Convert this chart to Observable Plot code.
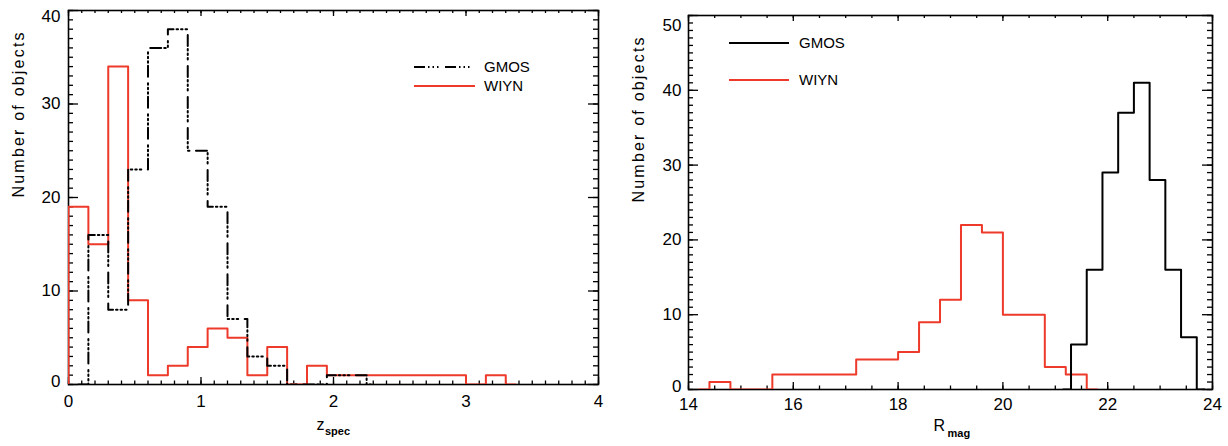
<!DOCTYPE html>
<html><head><meta charset="utf-8">
<script src="https://cdn.jsdelivr.net/npm/d3@7"></script>
<script src="https://cdn.jsdelivr.net/npm/@observablehq/plot@0.6"></script>
<style>
body{margin:0;background:#fff;}
#wrap{position:relative;width:1228px;height:446px;display:flex;}
.leg{position:absolute;font-family:"Liberation Sans",Arial,sans-serif;font-size:15px;line-height:16px;color:#000;}
.sw{position:absolute;}
</style></head><body><div id="wrap"></div>
<script>
// ---- Left panel: spectroscopic redshift histograms (bin width 0.15, plotted at bin centres) ----
const zWIYNCenters = [-0.075, 0.075, 0.225, 0.375, 0.525, 0.675, 0.825, 0.975, 1.125, 1.275, 1.425, 1.575, 1.725, 1.875, 2.025, 2.175, 2.325, 2.475, 2.625, 2.775, 2.925, 3.075, 3.225, 3.375];
const zWIYNCounts  = [0, 19, 15, 34, 9, 1, 2, 4, 6, 5, 1, 4, 0, 2, 1, 1, 1, 1, 1, 1, 1, 0, 1, 0];
const zGMOSCenters = [0.075, 0.225, 0.375, 0.525, 0.675, 0.825, 0.975, 1.125, 1.275, 1.425, 1.575, 1.725, 1.875, 2.025, 2.175, 2.325];
const zGMOSCounts  = [0, 16, 8, 23, 36, 38, 25, 19, 7, 3, 2, 0, 0, 1, 1, 0];

// ---- Right panel: R magnitude histograms ----
const rWIYNCenters = [14.2, 14.6, 15.0, 15.4, 15.8, 16.2, 16.6, 17.0, 17.4, 17.8, 18.2, 18.6, 19.0, 19.4, 19.8, 20.2, 20.6, 21.0, 21.4, 21.8];
const rWIYNCounts  = [0, 1, 0, 0, 2, 2, 2, 2, 4, 4, 5, 9, 12, 22, 21, 10, 10, 3, 2, 0];
const rGMOSCenters = [21.15, 21.45, 21.75, 22.05, 22.35, 22.65, 22.95, 23.25, 23.55, 23.85];
const rGMOSCounts  = [0, 6, 16, 29, 37, 41, 28, 16, 7, 0];

// ---- Axes ----
const zXTicks = [0, 1, 2, 3, 4];
const zYTicks = [0, 10, 20, 30, 40];
const rXTicks = [14, 16, 18, 20, 22, 24];
const rYTicks = [0, 10, 20, 30, 40, 50];
const seriesNames = ["GMOS", "WIYN"];
const yTitle = "Number of objects";

const RED = "#ee3a2a";
const DASH = "11,3,1.5,3,1.5,3,1.5,6.5";
const FONT = "'Liberation Sans', Arial, Helvetica, sans-serif";

function toRows(cs, vs) { return cs.map((x, i) => ({x, y: vs[i]})); }

function panel(o) {
  const innerW = o.width - o.mL - o.mR, innerH = o.height - o.mT - o.mB;
  const tk = {stroke: "black", strokeWidth: 1.3};
  const yMid = o.yMajor.slice(1, -1);
  return Plot.plot({
    width: o.width, height: o.height,
    marginLeft: o.mL, marginRight: o.mR, marginTop: o.mT, marginBottom: o.mB,
    x: {domain: o.xDomain, axis: null},
    y: {domain: o.yDomain, axis: null},
    style: {fontFamily: FONT, fontSize: "17px", background: "white", overflow: "visible", color: "black"},
    marks: [
      Plot.ruleX(o.xMinor, {...tk, insetTop: innerH - 3.5}),
      Plot.ruleX(o.xMajor, {...tk, insetTop: innerH - 7}),
      Plot.ruleX(o.xMinor, {...tk, insetBottom: innerH - 3}),
      Plot.ruleX(o.xMajor, {...tk, insetBottom: innerH - 6}),
      Plot.ruleY(o.yMinor, {...tk, insetRight: innerW - 5}),
      Plot.ruleY(o.yMajor, {...tk, insetRight: innerW - 10}),
      Plot.ruleY(o.yMinor, {...tk, insetLeft: innerW - 5}),
      Plot.ruleY(o.yMajor, {...tk, insetLeft: innerW - 10}),
      Plot.frame({stroke: "black", strokeWidth: 1.6}),
      Plot.text(o.xMajor, {x: d => d, text: d => String(d), frameAnchor: "bottom", dy: o.xLabDy, fontSize: 17}),
      Plot.text(yMid, {y: d => d, text: d => String(d), frameAnchor: "left", dx: o.yLabDx, textAnchor: "end", fontSize: 17}),
      Plot.text([o.yMajor[0]], {y: d => d, text: d => String(d), frameAnchor: "left", dx: o.yLabDx, dy: -3, textAnchor: "end", fontSize: 17}),
      Plot.text([o.yMajor[o.yMajor.length - 1]], {y: d => d, text: d => String(d), frameAnchor: "left", dx: o.yLabDx, dy: o.topDy, textAnchor: "end", fontSize: 17}),
      Plot.text([yTitle], {text: d => d, frameAnchor: "left", dx: o.yTitleDx, rotate: -90, fontSize: 16}),
      Plot.text([o.xTitle], {text: d => d, frameAnchor: "bottom", textAnchor: "start", dx: o.xtDx, dy: o.xtDy, fontSize: 16}),
      Plot.text([o.xSub], {text: d => d, frameAnchor: "bottom", textAnchor: "start", dx: o.xsDx, dy: o.xsDy, fontSize: 11, fontWeight: "bold"}),
      ...o.lines
    ]
  });
}

const wrap = document.getElementById("wrap");

const left = panel({
  width: 614, height: 446, mL: 68, mR: 16, mT: 10, mB: 62,
  xDomain: [0, 4], yDomain: [0, 40],
  xMajor: zXTicks, xMinor: d3.range(0, 4.0001, 0.1),
  yMajor: zYTicks, yMinor: d3.range(0, 40.0001, 1),
  xLabDy: 22, yLabDx: -8, topDy: 6, yTitleDx: -50,
  xTitle: "z", xtDx: -17, xtDy: 45, xSub: "spec", xsDx: -8.5, xsDy: 50,
  lines: [
    Plot.line(toRows(zWIYNCenters, zWIYNCounts), {x: "x", y: "y", curve: "step", stroke: RED, strokeWidth: 2, clip: true}),
    Plot.line(toRows(zGMOSCenters, zGMOSCounts), {x: "x", y: "y", curve: "step", stroke: "black", strokeWidth: 2, strokeDasharray: DASH, clip: true})
  ]
});

const right = panel({
  width: 614, height: 446, mL: 74, mR: 16, mT: 15, mB: 57,
  xDomain: [14, 24], yDomain: [0, 50],
  xMajor: rXTicks, xMinor: d3.range(14, 24.0001, 0.5),
  yMajor: rYTicks, yMinor: d3.range(0, 50.0001, 1),
  xLabDy: 20, yLabDx: -7, topDy: 10, yTitleDx: -50,
  xTitle: "R", xtDx: -17, xtDy: 41.5, xSub: "mag", xsDx: -3, xsDy: 47,
  lines: [
    Plot.line(toRows(rWIYNCenters, rWIYNCounts), {x: "x", y: "y", curve: "step", stroke: RED, strokeWidth: 2, clip: true}),
    Plot.line(toRows(rGMOSCenters, rGMOSCounts), {x: "x", y: "y", curve: "step", stroke: "black", strokeWidth: 2, clip: true})
  ]
});

wrap.appendChild(left);
wrap.appendChild(right);

for (const t of document.querySelectorAll("svg text")) {
  if (t.textContent === yTitle) t.style.letterSpacing = "2.2px";
}

// ---- Legends (HTML overlay) ----
function legendItem(x1, x2, y, color, dash, label, tx) {
  const s = document.createElementNS("http://www.w3.org/2000/svg", "svg");
  s.setAttribute("class", "sw");
  s.setAttribute("width", x2 - x1); s.setAttribute("height", 6);
  s.style.left = x1 + "px"; s.style.top = (y - 3) + "px";
  const l = document.createElementNS("http://www.w3.org/2000/svg", "line");
  l.setAttribute("x1", 0); l.setAttribute("x2", x2 - x1);
  l.setAttribute("y1", 3); l.setAttribute("y2", 3);
  l.setAttribute("stroke", color); l.setAttribute("stroke-width", 2);
  if (dash) l.setAttribute("stroke-dasharray", dash);
  s.appendChild(l);
  wrap.appendChild(s);
  const d = document.createElement("div");
  d.className = "leg"; d.textContent = label;
  d.style.left = tx + "px"; d.style.top = (y - 8) + "px";
  wrap.appendChild(d);
}
legendItem(414, 475, 67, "black", DASH, seriesNames[0], 484);
legendItem(414, 475, 86, RED, null, seriesNames[1], 484);
legendItem(729, 789, 43, "black", null, seriesNames[0], 799);
legendItem(729, 789, 80, RED, null, seriesNames[1], 799);
</script></body></html>
